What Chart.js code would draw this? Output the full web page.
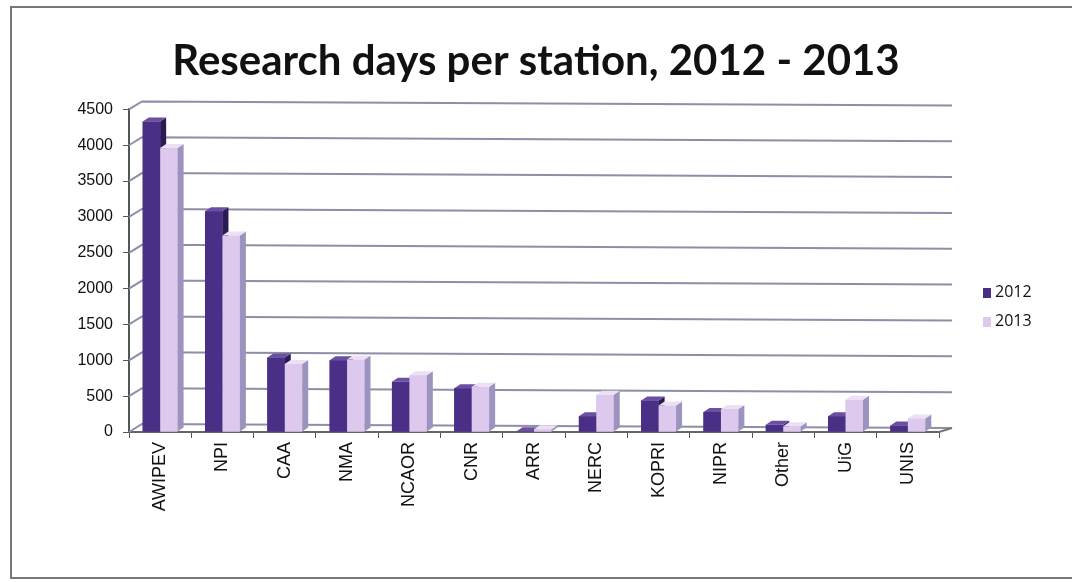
<!DOCTYPE html>
<html>
<head>
<meta charset="utf-8">
<script src="https://cdn.jsdelivr.net/npm/chart.js@4.4.1/dist/chart.umd.min.js"></script>
<style>
  html, body { margin: 0; padding: 0; background: #fff; }
  #frame { position: absolute; left: 10px; top: 6px; width: 1080px; height: 573px; border: 2px solid #777; box-sizing: border-box; }
  #wrap { position: absolute; left: 0; top: 0; width: 1072px; height: 582px; }
  .leg { position: absolute; font: 16px "Open Sans", "Liberation Sans", sans-serif; color: #111; }
  .leg i { display: inline-block; width: 8px; height: 10px; margin-right: 4px; vertical-align: -1px; }
</style>
</head>
<body>
<div id="frame"></div>
<div id="wrap"><canvas id="chart"></canvas></div>
<div class="leg" style="left:983px;top:280px"><i style="background:#4a2f86"></i>2012</div>
<div class="leg" style="left:983px;top:309px"><i style="background:#ddc8ee"></i>2013</div>
<script>
// research days per station
const stations = ['AWIPEV', 'NPI', 'CAA', 'NMA', 'NCAOR', 'CNR', 'ARR', 'NERC', 'KOPRI', 'NIPR', 'Other', 'UiG', 'UNIS'];
const days2012 = [4330, 3080, 1040, 1000, 700, 610, 10, 220, 440, 280, 100, 220, 90];
const days2013 = [3960, 2740, 950, 1010, 790, 630, 40, 520, 370, 320, 80, 450, 190];
const yTicks = [0, 500, 1000, 1500, 2000, 2500, 3000, 3500, 4000, 4500];

const DX = 13, DY = 8;     // wall depth
const BX = 6, BY = 4;      // bar depth
const faces = [
  { front: '#4a2f86', side: '#2c1a55', top: '#6a4fa3' },
  { front: '#ddc8ee', side: '#9c94bf', top: '#ece0f5' }
];

// walls, back gridlines, floor + bar depth
const walls3d = {
  id: 'walls3d',
  beforeDatasetsDraw(chart) {
    const { ctx, chartArea: a, scales: { y } } = chart;
    ctx.save();
    ctx.strokeStyle = '#8e8ea6';
    ctx.lineWidth = 2;
    yTicks.forEach(v => {
      const py = y.getPixelForValue(v);
      ctx.beginPath();
      ctx.moveTo(a.left, py);
      ctx.lineTo(a.left + DX, py - DY);
      ctx.lineTo(a.right + DX, py - DY + 4);
      ctx.stroke();
    });
    const b = y.getPixelForValue(0);
    ctx.strokeStyle = '#777';
    ctx.beginPath();
    ctx.moveTo(a.right, b);
    ctx.lineTo(a.right + DX, b - DY + 4);
    ctx.stroke();
    ctx.restore();
  },
  afterDatasetsDraw(chart) {
    const { ctx } = chart;
    const m0 = chart.getDatasetMeta(0).data, m1 = chart.getDatasetMeta(1).data;
    ctx.save();
    stations.forEach((s, i) => {
      [m0[i], m1[i]].forEach((bar, d) => {
        const w = bar.width, l = bar.x - w / 2, r = bar.x + w / 2, t = bar.y, btm = bar.base;
        const f = faces[d];
        ctx.fillStyle = f.front;
        ctx.fillRect(l, t, w, btm - t);
        ctx.fillStyle = f.side;
        ctx.beginPath();
        ctx.moveTo(r, t); ctx.lineTo(r + BX, t - BY); ctx.lineTo(r + BX, btm - BY); ctx.lineTo(r, btm);
        ctx.closePath(); ctx.fill();
        ctx.fillStyle = f.top;
        ctx.beginPath();
        ctx.moveTo(l, t); ctx.lineTo(l + BX, t - BY); ctx.lineTo(r + BX, t - BY); ctx.lineTo(r, t);
        ctx.closePath(); ctx.fill();
      });
    });
    ctx.restore();
  }
};

new Chart(document.getElementById('chart'), {
  type: 'bar',
  data: {
    labels: stations,
    datasets: [
      { label: '2012', data: days2012, backgroundColor: faces[0].front },
      { label: '2013', data: days2013, backgroundColor: faces[1].front }
    ]
  },
  options: {
    responsive: true, maintainAspectRatio: false, animation: false,
    layout: { padding: 0 },
    datasets: { bar: { categoryPercentage: 0.56, barPercentage: 1 } },
    plugins: {
      legend: { display: false },
      tooltip: { enabled: false },
      title: {
        display: true,
        text: 'Research days per station, 2012 - 2013',
        color: '#111',
        font: { family: 'Lato', size: 42, weight: 'bold' },
        padding: { top: 36, bottom: 23 }
      }
    },
    scales: {
      x: {
        afterFit: s => { s.height = 150; },
        grid: { display: true, drawOnChartArea: false, color: '#555', tickLength: 6, lineWidth: 1 },
        border: { display: true, color: '#666', width: 2 },
        ticks: { color: '#111', font: { family: 'Liberation Sans', size: 18 }, minRotation: 90, maxRotation: 90, padding: 4, autoSkip: false }
      },
      y: {
        min: 0, max: 4500,
        afterFit: s => { s.width = 129; },
        afterBuildTicks: s => { s.ticks = yTicks.map(v => ({ value: v })); },
        grid: { display: true, drawOnChartArea: false, color: '#555', tickLength: 6 },
        border: { display: true, color: '#555', width: 2 },
        ticks: { color: '#111', font: { family: 'Liberation Sans', size: 16 }, padding: 10, callback: v => String(v) }
      },
      // empty right axis reserves room for the legend
      yRight: {
        position: 'right', min: 0, max: 4500,
        afterFit: s => { s.width = 133; },
        grid: { display: false }, border: { display: false }, ticks: { display: false }
      }
    }
  },
  plugins: [walls3d]
});
</script>
</body>
</html>
